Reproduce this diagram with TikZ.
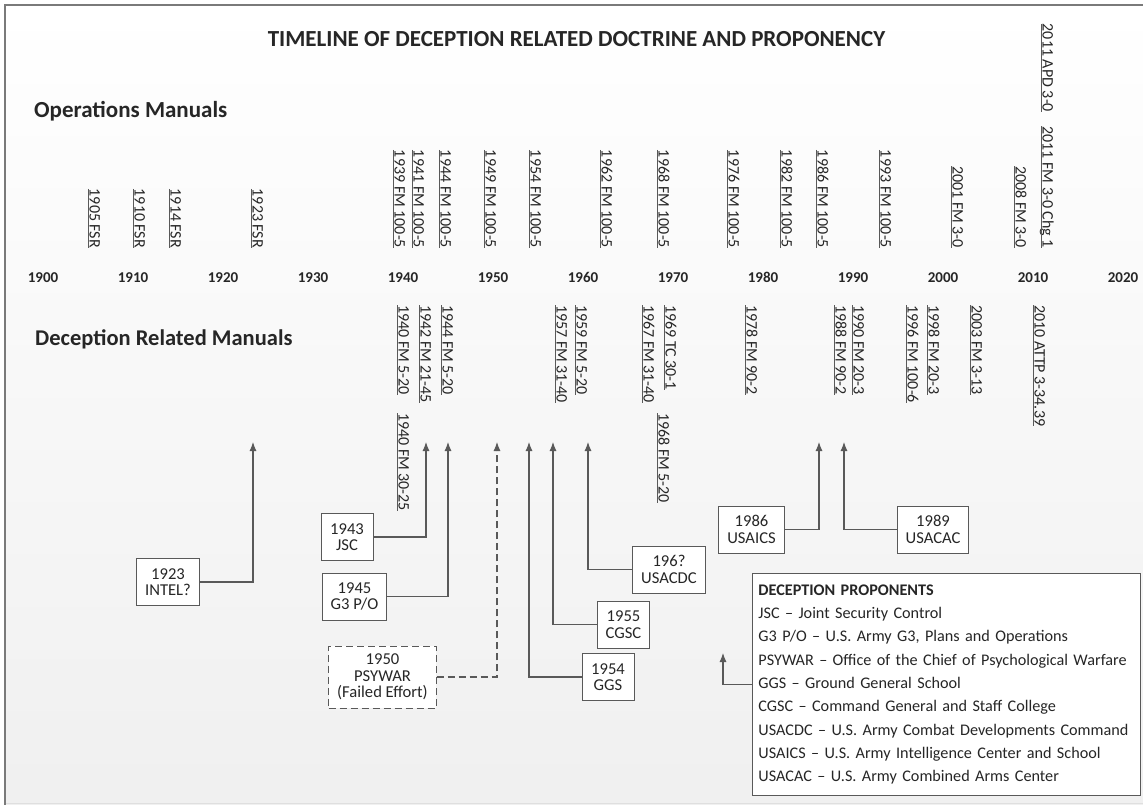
\documentclass[tikz,border=0pt]{standalone}
\usepackage{fontspec}
\setmainfont{Carlito}
\usetikzlibrary{shapes,arrows,arrows.meta,calc,positioning,backgrounds}

\definecolor{framegray}{HTML}{7A7A7A}
\definecolor{linegray}{HTML}{595959}
\definecolor{textgray}{HTML}{262626}
\newcommand\labelfont{\fontsize{16}{17}\selectfont}
\newcommand\boxfont{\fontsize{16.6}{16.5}\selectfont}

\begin{document}
\begin{tikzpicture}[x=1pt,y=-1pt,
  manual/.style={rotate=-90,inner xsep=0pt,inner ysep=1.6pt,outer sep=0pt,text depth=0pt,
    font=\labelfont,text=textgray,
    append after command={(\tikzlastnode.south west) edge[draw=linegray,line width=1pt] (\tikzlastnode.south east)}},
  opman/.style={manual,anchor=south east},
  decman/.style={manual,anchor=south west},
  year/.style={font=\fontsize{15}{18}\selectfont\bfseries,text=textgray,anchor=base},
  heading/.style={font=\fontsize{23}{27}\selectfont\bfseries,text=textgray,anchor=base west,inner sep=0pt},
  box/.style={draw=linegray,line width=0.9pt,fill=white,align=center,font=\boxfont,text=textgray,
    minimum width=52pt,minimum height=47pt,inner xsep=8.5pt,inner ysep=2pt},
  link/.style={draw=linegray,line width=1.1pt,-{Latex[length=9pt,width=7pt]}}]

  \useasboundingbox (0,0) rectangle (1143,805);
  \shade[top color=white,bottom color=gray!12] (5,5) rectangle (1143,805);
  \draw[gray!25] (5,803) -- (1143,803);
  \draw[framegray,line width=2.5pt] (5,805) -- (5,5) -- (1143,5);

  % titles
  \node[font=\fontsize{23}{27}\selectfont\bfseries,text=textgray,anchor=base] (title) at (576.5,47)
    {TIMELINE OF DECEPTION RELATED DOCTRINE AND PROPONENCY};
  \node[heading] (ophead) at (34,118) {Operations Manuals};
  \node[heading,font=\fontsize{22.5}{27}\selectfont\bfseries] (dechead) at (35,345) {Deception Related Manuals};

  % time axis
  \foreach \yr [count=\i from 0] in {1900,1910,...,2020}
    \node[year] (y\yr) at (43+90*\i,282) {\yr};

  % operations manuals
  \foreach \x/\txt [count=\i] in {88/1905 FSR, 133/1910 FSR, 169/1914 FSR, 251/1923 FSR,
      393/1939 FM 100-5, 412/1941 FM 100-5, 439/1944 FM 100-5, 484/1949 FM 100-5,
      529/1954 FM 100-5, 600/1962 FM 100-5, 657/1968 FM 100-5, 727/1976 FM 100-5,
      780/1982 FM 100-5, 816/1986 FM 100-5, 879/1993 FM 100-5, 951/2001 FM 3-0,
      1014/2008 FM 3-0, 1041/2011 FM 3-0 Chg 1}
    \node[opman] (op\i) at (\x,248) {\txt};
  \node[opman] (apd) at (1041,112) {2011 APD 3-0};

  % deception related manuals
  \foreach \x/\txt [count=\i] in {397/1940 FM 5-20, 419/1942 FM 21-45, 441/1944 FM 5-20,
      555/1957 FM 31-40, 575/1959 FM 5-20, 642/1967 FM 31-40, 664/1969 TC 30-1,
      745/1978 FM 90-2, 834/1988 FM 90-2, 852/1990 FM 20-3, 906/1996 FM 100-6,
      927/1998 FM 20-3, 970/2003 FM 3-13, 1033/2010 ATTP 3-34.39}
    \node[decman] (dm\i) at (\x,305) {\txt};
  \node[decman] (dm30) at (397,413) {1940 FM 30-25};
  \node[decman] (dm68) at (657,413) {1968 FM 5-20};

  % proponents
  \node[box] (intel) at (168,582) {1923\\INTEL?};
  \node[box] (jsc) at (347,537) {1943\\JSC};
  \node[box] (gthree) at (354.5,596.5) {1945\\G3 P/O};
  \node[box,dashed,dash pattern=on 7pt off 4pt,minimum height=62pt] (psywar) at (382.5,677) {1950\\PSYWAR\\(Failed Effort)};
  \node[box] (ggs) at (608,677) {1954\\GGS};
  \node[box] (cgsc) at (623.5,624.5) {1955\\CGSC};
  \node[box] (usacdc) at (669,569.5) {196?\\USACDC};
  \node[box] (usaics) at (751.5,529.5) {1986\\USAICS};
  \node[box] (usacac) at (933,529.5) {1989\\USACAC};

  \node[draw=linegray,line width=0.9pt,fill=white,anchor=north west,minimum width=388pt,minimum height=222pt,
    text width=376pt,inner xsep=6pt,align=left,font=\fontsize{16.2}{23.3}\selectfont,text=textgray] (legend) at (752,573)
    {\textbf{DECEPTION PROPONENTS}\\
     JSC – Joint Security Control\\
     G3 P/O – U.S. Army G3, Plans and Operations\\
     PSYWAR – Office of the Chief of Psychological Warfare\\
     GGS – Ground General School\\
     CGSC – Command General and Staff College\\
     USACDC – U.S. Army Combat Developments Command\\
     USAICS – U.S. Army Intelligence Center and School\\
     USACAC – U.S. Army Combined Arms Center};

  % arrow ends
  \coordinate (t23) at (253,442);
  \coordinate (t43) at (426,442);
  \coordinate (t45) at (448,442);
  \coordinate (t50) at (497,442);
  \coordinate (t54) at (529,442);
  \coordinate (t55) at (553,442);
  \coordinate (t6x) at (588,442);
  \coordinate (t86) at (819,442);
  \coordinate (t89) at (844,442);
  \coordinate (tleg) at (723,653);

  \draw[link] (intel.east) -| (t23);
  \draw[link] (jsc.east) -| (t43);
  \draw[link] (gthree.east) -| (t45);
  \draw[link,dashed,dash pattern=on 7pt off 4pt] (psywar.east) -| (t50);
  \draw[link] (ggs.west) -| (t54);
  \draw[link] (cgsc.west) -| (t55);
  \draw[link] (usacdc.west) -| (t6x);
  \draw[link] (usaics.east) -| (t86);
  \draw[link] (usacac.west) -| (t89);
  \draw[link] (legend.west) -| (tleg);
\end{tikzpicture}
\end{document}
